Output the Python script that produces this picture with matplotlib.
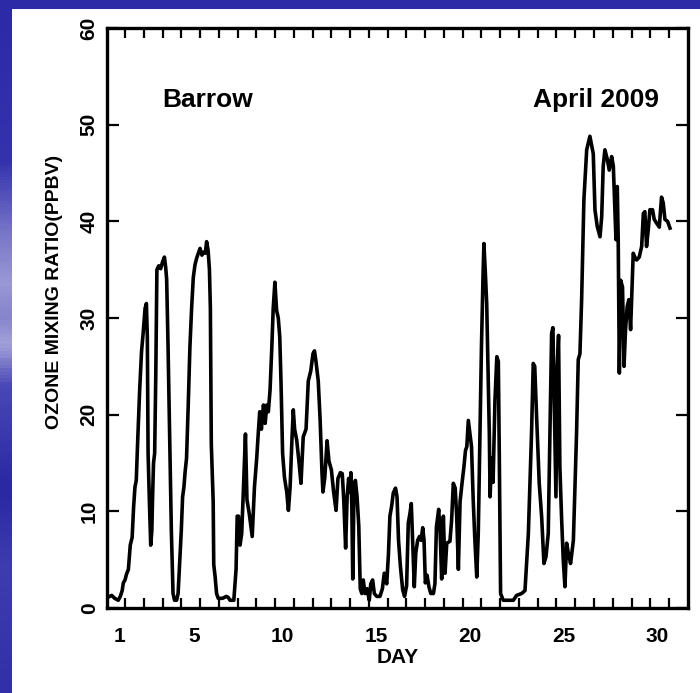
import matplotlib
matplotlib.use("Agg")
import matplotlib.pyplot as plt
import numpy as np
from matplotlib.colors import LinearSegmentedColormap
from matplotlib.patches import Rectangle

# surface ozone at Barrow, April 2009
day = [0.08, 0.29, 0.45, 0.64, 0.75, 0.85, 0.91, 1.0, 1.08, 1.18, 1.28, 1.38, 1.46, 1.53, 1.6, 1.68,
       1.78, 1.88, 1.97, 2.07, 2.14, 2.19, 2.23, 2.3, 2.37, 2.43, 2.47, 2.52, 2.58, 2.64, 2.7, 2.8,
       2.9, 3.0, 3.1, 3.17, 3.22, 3.29, 3.38, 3.47, 3.56, 3.64, 3.75, 3.83, 3.92, 4.0, 4.07, 4.14,
       4.2, 4.28, 4.37, 4.46, 4.55, 4.64, 4.73, 4.82, 4.91, 5.0, 5.1, 5.18, 5.28, 5.35, 5.43, 5.5,
       5.55, 5.6, 5.65, 5.7, 5.73, 5.8, 5.88, 5.97, 6.2, 6.4, 6.5, 6.6, 6.8, 6.92, 6.98, 7.05,
       7.13, 7.22, 7.31, 7.42, 7.5, 7.62, 7.78, 7.9, 8.02, 8.1, 8.18, 8.27, 8.38, 8.47, 8.56, 8.64,
       8.73, 8.82, 8.9, 8.99, 9.08, 9.17, 9.25, 9.32, 9.4, 9.5, 9.62, 9.71, 9.8, 9.9, 9.97, 10.04,
       10.15, 10.28, 10.38, 10.5, 10.65, 10.77, 10.9, 11.02, 11.1, 11.18, 11.3, 11.4, 11.5, 11.55,
       11.65, 11.77, 11.87, 12.0, 12.12, 12.25, 12.35, 12.48, 12.58, 12.66, 12.76, 12.84, 12.92,
       13.0, 13.04, 13.09, 13.14, 13.21, 13.28, 13.37, 13.46, 13.54, 13.62, 13.7, 13.79, 13.9,
       14.02, 14.1, 14.2, 14.29, 14.42, 14.59, 14.72, 14.82, 14.95, 15.04, 15.12, 15.21, 15.3,
       15.42, 15.5, 15.58, 15.68, 15.8, 15.9, 16.01, 16.1, 16.19, 16.26, 16.33, 16.42, 16.5, 16.6,
       16.7, 16.78, 16.87, 16.94, 17.01, 17.1, 17.2, 17.3, 17.44, 17.52, 17.6, 17.72, 17.8, 17.88,
       17.97, 18.06, 18.15, 18.32, 18.41, 18.5, 18.6, 18.68, 18.77, 18.86, 18.97, 19.06, 19.15,
       19.22, 19.3, 19.38, 19.47, 19.56, 19.65, 19.75, 19.83, 19.92, 20.0, 20.08, 20.13, 20.2,
       20.28, 20.36, 20.42, 20.46, 20.54, 20.62, 20.72, 20.82, 20.9, 20.95, 21.02, 21.16, 21.5,
       21.7, 21.87, 22.14, 22.32, 22.5, 22.67, 22.76, 22.84, 22.94, 23.08, 23.21, 23.33, 23.44,
       23.56, 23.65, 23.74, 23.81, 23.9, 23.97, 24.04, 24.11, 24.18, 24.27, 24.36, 24.45, 24.54,
       24.63, 24.75, 24.9, 25.07, 25.16, 25.25, 25.34, 25.46, 25.61, 25.78, 25.96, 26.05, 26.17,
       26.32, 26.41, 26.49, 26.58, 26.71, 26.81, 26.94, 27.03, 27.12, 27.17, 27.24, 27.29, 27.35,
       27.42, 27.52, 27.6, 27.68, 27.77, 27.86, 27.95, 28.09, 28.18, 28.27, 28.41, 28.54, 28.63,
       28.71, 28.8, 28.89, 28.98, 29.12, 29.21, 29.34, 29.48, 29.6, 29.69, 29.78, 29.92, 30.05]
ozone = [1.1, 1.3, 1.0, 0.8, 1.2, 1.8, 2.6, 2.9, 3.5, 4.0, 6.5, 7.3, 10.5, 12.5, 13.2, 17.5,
         22.5, 26.5, 28.5, 31.0, 31.5, 28.0, 16.0, 11.0, 6.5, 8.0, 11.5, 15.0, 16.0, 24.0, 35.0, 35.4,
         35.1, 35.8, 36.3, 35.2, 34.0, 27.5, 18.0, 8.0, 1.5, 0.8, 0.8, 1.5, 5.0, 8.0, 11.5, 12.5,
         14.0, 15.5, 21.0, 27.0, 31.0, 34.2, 35.5, 36.2, 36.7, 37.2, 36.5, 36.8, 36.7, 37.9, 37.0, 35.0,
         31.0, 17.0, 14.0, 11.0, 4.5, 3.3, 1.5, 1.0, 1.0, 1.2, 1.1, 0.8, 0.8, 4.0, 9.5, 9.5,
         6.5, 7.7, 12.2, 18.0, 11.2, 9.8, 7.4, 12.5, 15.5, 18.0, 20.3, 18.5, 21.0, 19.1, 21.0, 20.3,
         22.5, 26.7, 31.0, 33.7, 30.8, 30.0, 28.0, 23.0, 16.0, 13.5, 12.0, 10.1, 12.5, 17.5, 20.5, 18.5,
         17.4, 15.0, 12.9, 17.7, 18.5, 23.5, 24.5, 26.3, 26.6, 25.5, 23.5, 19.5, 14.0, 12.0,
         13.5, 17.3, 15.2, 14.3, 12.0, 10.1, 13.4, 14.0, 13.9, 11.2, 6.2, 11.5, 13.4,
         12.0, 14.0, 10.5, 3.0, 12.7, 13.2, 11.5, 8.5, 2.0, 1.5, 2.9, 1.5, 2.0,
         0.8, 2.5, 2.9, 1.5, 1.2, 1.2, 2.0, 3.6, 2.5, 5.5, 9.5, 10.5, 11.9,
         12.4, 11.5, 7.0, 4.3, 1.9, 1.2, 2.3, 8.8, 9.8, 10.8, 7.0, 2.2, 5.7, 7.0,
         7.4, 7.0, 8.3, 7.0, 2.6, 3.4, 2.2, 1.5, 1.5, 2.5, 8.4, 10.2, 7.7, 3.0,
         9.5, 3.6, 6.7, 6.9, 9.1, 12.9, 12.4, 9.5, 4.0, 11.0, 13.0, 14.5, 16.3,
         16.7, 19.4, 18.1, 16.7, 11.2, 7.0, 3.2, 7.7, 18.0, 27.0, 34.0, 37.7, 35.0,
         31.5, 24.0, 18.0, 11.5, 15.5, 13.0, 21.5, 26.0, 25.5, 16.0, 1.5, 0.8, 0.8,
         0.8, 1.3, 1.5, 1.8, 7.7, 18.1, 25.3, 25.0, 19.8, 12.9, 9.4, 4.6, 5.3,
         7.7, 18.1, 28.4, 29.0, 19.4, 11.5, 25.0, 28.2, 14.6, 9.4, 5.0, 2.2, 6.7,
         5.7, 4.6, 7.0, 18.1, 25.7, 26.3, 31.9, 42.2, 47.4, 48.8, 47.0, 41.2, 39.5,
         38.4, 40.5, 45.7, 47.4, 46.4, 45.3, 46.7, 45.7, 40.8, 38.1, 43.6, 38.1, 24.3,
         33.9, 33.2, 25.0, 28.8, 31.2, 31.9, 28.8, 36.7, 36.3, 36.0, 36.3, 37.4, 40.8,
         41.0, 37.4, 39.1, 41.2, 41.2, 40.2, 39.8, 39.4, 42.5, 41.9, 40.2, 40.0, 39.3]

tick_days = list(range(1, 31))
label_days = [1, 5, 10, 15, 20, 25, 30]
tick_labels = [str(d) if d in label_days else "" for d in tick_days]
y_ticks = [0, 10, 20, 30, 40, 50, 60]

plt.rcParams["font.family"] = ["Liberation Sans", "DejaVu Sans"]
plt.rcParams["font.weight"] = "bold"

fig = plt.figure(figsize=(7, 6.93), dpi=100)
fig.patch.set_facecolor("#2c2aa7")

# slide background: white panel, blue band on the left and top
fig.patches.append(Rectangle((12 / 700, 0), 1, 684 / 693, transform=fig.transFigure,
                             facecolor="white", edgecolor="none", zorder=0))
strip = fig.add_axes([0, 0, 12 / 700, 684 / 693], zorder=0)
strip_cmap = LinearSegmentedColormap.from_list(
    "slide", [(0.0, "#2c2aa7"), (0.22, "#3432ad"), (0.33, "#7a78c8"), (0.40, "#9a98d6"),
              (0.45, "#8684cc"), (0.49, "#a4a2da"), (0.55, "#4a48b6"), (0.70, "#2a28a2"),
              (0.82, "#3e3cae"), (1.0, "#3130a8")])
strip.imshow(np.linspace(0, 1, 200).reshape(-1, 1), aspect="auto", cmap=strip_cmap)
strip.axis("off")

ax = fig.add_axes([107 / 700, 85 / 693, 581 / 700, 580 / 693], zorder=2)
ax.plot(day, ozone, color="black", linewidth=2.6, solid_joinstyle="round")

ax.set_xlim(0.04, 31.01)
ax.set_ylim(0, 60)
ax.set_xticks(tick_days)
ax.set_xticklabels(tick_labels, ha="right")
ax.set_yticks(y_ticks)
ax.tick_params(axis="x", direction="in", top=True, length=7.5, width=1.6, pad=14, labelsize=15)
ax.tick_params(axis="y", direction="in", right=True, length=8.5, width=1.6, pad=6,
               labelsize=15, labelrotation=90)
for lbl in ax.get_yticklabels():
    lbl.set_va("center")
for sp in ax.spines.values():
    sp.set_linewidth(2.4)

ax.set_xlabel("DAY", fontsize=15, fontweight="bold", labelpad=1)
ax.set_ylabel("OZONE MIXING RATIO(PPBV)", fontsize=14, fontweight="bold")
ax.yaxis.set_label_coords(-0.076, 0.545)

ax.text(0.095, 0.864, "Barrow", transform=ax.transAxes, fontsize=19, fontweight="bold",
        ha="left", va="baseline")
ax.text(0.950, 0.864, "April 2009", transform=ax.transAxes, fontsize=19, fontweight="bold",
        ha="right", va="baseline")

fig.savefig("out.png", dpi=100, facecolor=fig.get_facecolor())
